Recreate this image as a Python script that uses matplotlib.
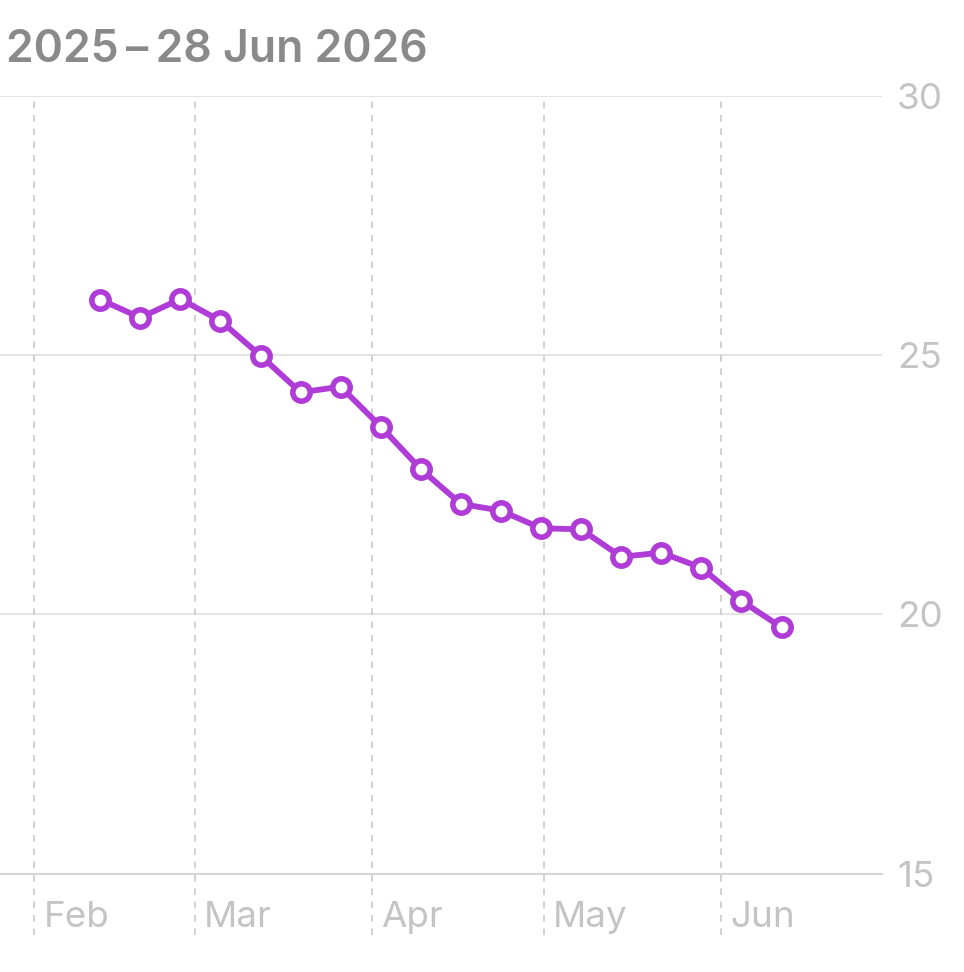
import matplotlib
matplotlib.use("Agg")
import matplotlib.pyplot as plt
import matplotlib.dates as mdates
import numpy as np
import pandas as pd

# ---- data ----
week_starts = ["2026-02-09", "2026-02-16", "2026-02-23", "2026-03-02", "2026-03-09",
               "2026-03-16", "2026-03-23", "2026-03-30", "2026-04-06", "2026-04-13",
               "2026-04-20", "2026-04-27", "2026-05-04", "2026-05-11", "2026-05-18",
               "2026-05-25", "2026-06-01", "2026-06-08"]
values = [26.07, 25.72, 26.08, 25.66, 24.99, 24.28, 24.39, 23.62, 22.80, 22.13,
          22.00, 21.66, 21.64, 21.11, 21.19, 20.90, 20.26, 19.75]
month_starts = ["2026-02-01", "2026-03-01", "2026-04-01", "2026-05-01", "2026-06-01"]
month_labels = ["Feb", "Mar", "Apr", "May", "Jun"]
y_ticks = [15, 20, 25, 30]
title = "2025\u2009\u2013\u200928 Jun 2026"
x_range = ["2026-01-26", "2026-06-29"]

plt.rcParams['font.family'] = ['Inter', 'DejaVu Sans']

W, H = 964, 972
fig = plt.figure(figsize=(W / 100, H / 100), dpi=100)
left, right, top, bottom = 0, 881.7, 95.7, 873.7
ax = fig.add_axes([left / W, 1 - bottom / H, (right - left) / W, (bottom - top) / H])

purple = "#B03CD8"
x = pd.to_datetime(week_starts) + pd.Timedelta(hours=84)
ax.plot(x, values, color=purple, lw=4.2, marker='o', ms=12.5, mew=4.0,
        mfc='white', mec=purple, zorder=5, solid_joinstyle='round')

ax.set_xlim(pd.to_datetime(x_range[0]), pd.to_datetime(x_range[1]))
ax.set_ylim(15, 30)

for s in ["top", "left", "right"]:
    ax.spines[s].set_visible(False)
ax.spines["bottom"].set_color("#D6D6D6")
ax.spines["bottom"].set_linewidth(1.5)

ax.yaxis.tick_right()
ax.set_yticks(y_ticks)
ax.set_yticklabels([str(t) for t in y_ticks])
ax.tick_params(axis='y', length=0, pad=11, labelsize=26.5, labelcolor="#C4C4C4")
ax.yaxis.grid(True, color="#E4E4E4", lw=1.5)
ax.set_axisbelow(True)

ax.set_xticks([])
md = pd.to_datetime(month_starts)
ax.vlines(md, -0.079, 1, transform=ax.get_xaxis_transform(), clip_on=False,
          colors="#CACACA", lw=1.2, linestyles=(0, (4, 4)), zorder=1)
for d, lab in zip(md, month_labels):
    ax.annotate(lab, xy=(d, 0), xycoords=('data', 'axes fraction'),
                xytext=(9, -53), textcoords='offset pixels', ha='left', va='baseline',
                fontsize=26.5, color="#C4C4C4", annotation_clip=False)

fig.text(6 / W, 1 - 61.7 / H, title, fontsize=32, fontweight='semibold',
         color="#8A8A8A", ha='left', va='baseline')

fig.savefig("out.png", dpi=100, facecolor='white')
